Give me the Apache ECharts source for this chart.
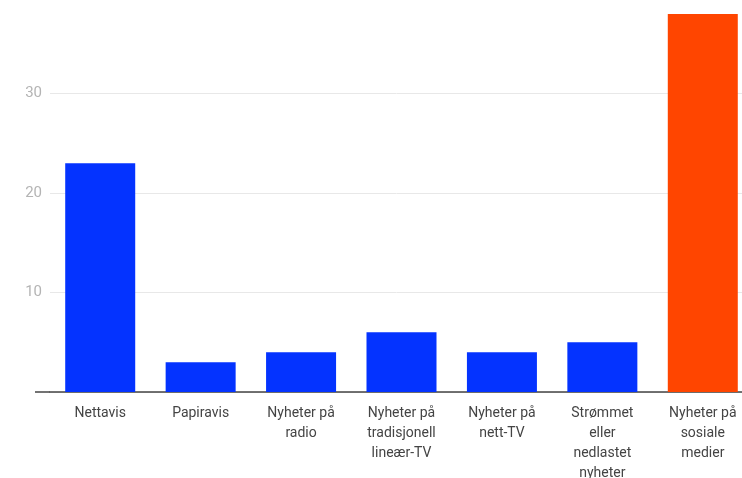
<!DOCTYPE html>
<html><head><meta charset="utf-8">
<script src="https://cdn.jsdelivr.net/npm/echarts@6/dist/echarts.min.js"></script>
<style>html,body{margin:0;padding:0;background:#fff}#c{width:742px;height:478px}</style>
</head><body><div id="c"></div>
<script>
const categories = ["Nettavis","Papiravis","Nyheter på\nradio","Nyheter på\ntradisjonell\nlineær-TV","Nyheter på\nnett-TV","Strømmet\neller\nnedlastet\nnyheter","Nyheter på\nsosiale\nmedier"];
const values = [23, 3, 4, 6, 4, 5, 38];
const highlight = "Nyheter på\nsosiale\nmedier";
const yTicks = [0, 10, 20, 30, 40];

const chart = echarts.init(document.getElementById('c'), null, {renderer:'canvas'});
chart.setOption({
  animation:false,
  grid:{left:50, top:-6, width:703, bottom:86, containLabel:false, outerBoundsMode:'none'},
  xAxis:{type:'category', data:categories,
    axisLine:{show:true, lineStyle:{color:'#444', width:1.5}},
    axisTick:{show:false},
    axisLabel:{color:'#444', fontFamily:'Roboto', fontSize:14, lineHeight:20, margin:11, interval:0}},
  yAxis:{type:'value', min:yTicks[0], max:yTicks[yTicks.length-1], interval:10,
    axisLine:{show:false}, axisTick:{show:false},
    splitLine:{lineStyle:{color:'#e8e8e8', width:1}},
    axisLabel:{color:'#b4b4b4', fontFamily:'Roboto', fontSize:15, margin:8,
      formatter:v=> (v===yTicks[0] || v===yTicks[yTicks.length-1]) ? '' : String(v)}},
  series:[{type:'bar', barWidth:70,
    data: values.map((v,i)=>({value:v, itemStyle:{color: categories[i]===highlight ? '#ff4500' : '#0433ff'}}))}]
});
// extend the baseline a little to the left of the plot area, as in the reference
const base = chart.convertToPixel({yAxisIndex:0}, 0);
chart.setOption({graphic:[{type:'line', shape:{x1:35, y1:base, x2:50, y2:base},
  style:{stroke:'#444', lineWidth:1.5}, silent:true}]});
</script></body></html>
